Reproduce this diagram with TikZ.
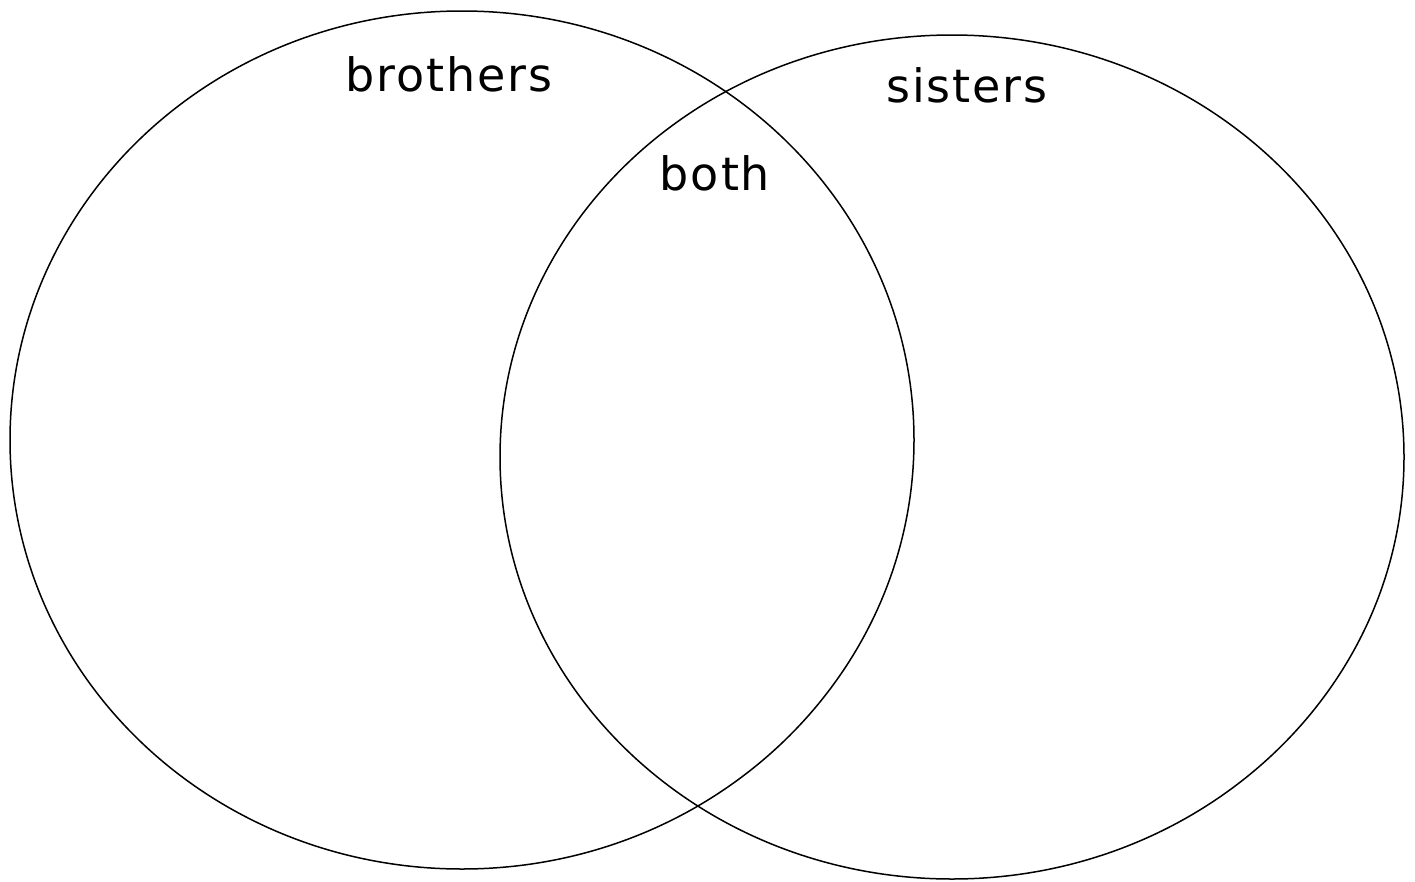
\documentclass[tikz,border=0pt]{standalone}
\usepackage{fontspec}
\setmainfont{DejaVu Sans}[LetterSpace=4]
\begin{document}
\begin{tikzpicture}[x=1pt,y=-1pt,
  ring/.style={draw=black,line width=1.5pt},
  lab/.style={anchor=base,inner sep=0pt,font=\fontsize{46}{50}\selectfont}]
\useasboundingbox (0,0) rectangle (1415,881);
\draw[ring] (462,440) ellipse [x radius=452, y radius=429];
\draw[ring] (952,457) ellipse [x radius=452, y radius=422];
\node[lab] (brothers) at (449,91) {brothers};
\node[lab] (sisters) at (967,102) {sisters};
\node[lab] (both) at (715,190) {both};
\end{tikzpicture}
\end{document}
